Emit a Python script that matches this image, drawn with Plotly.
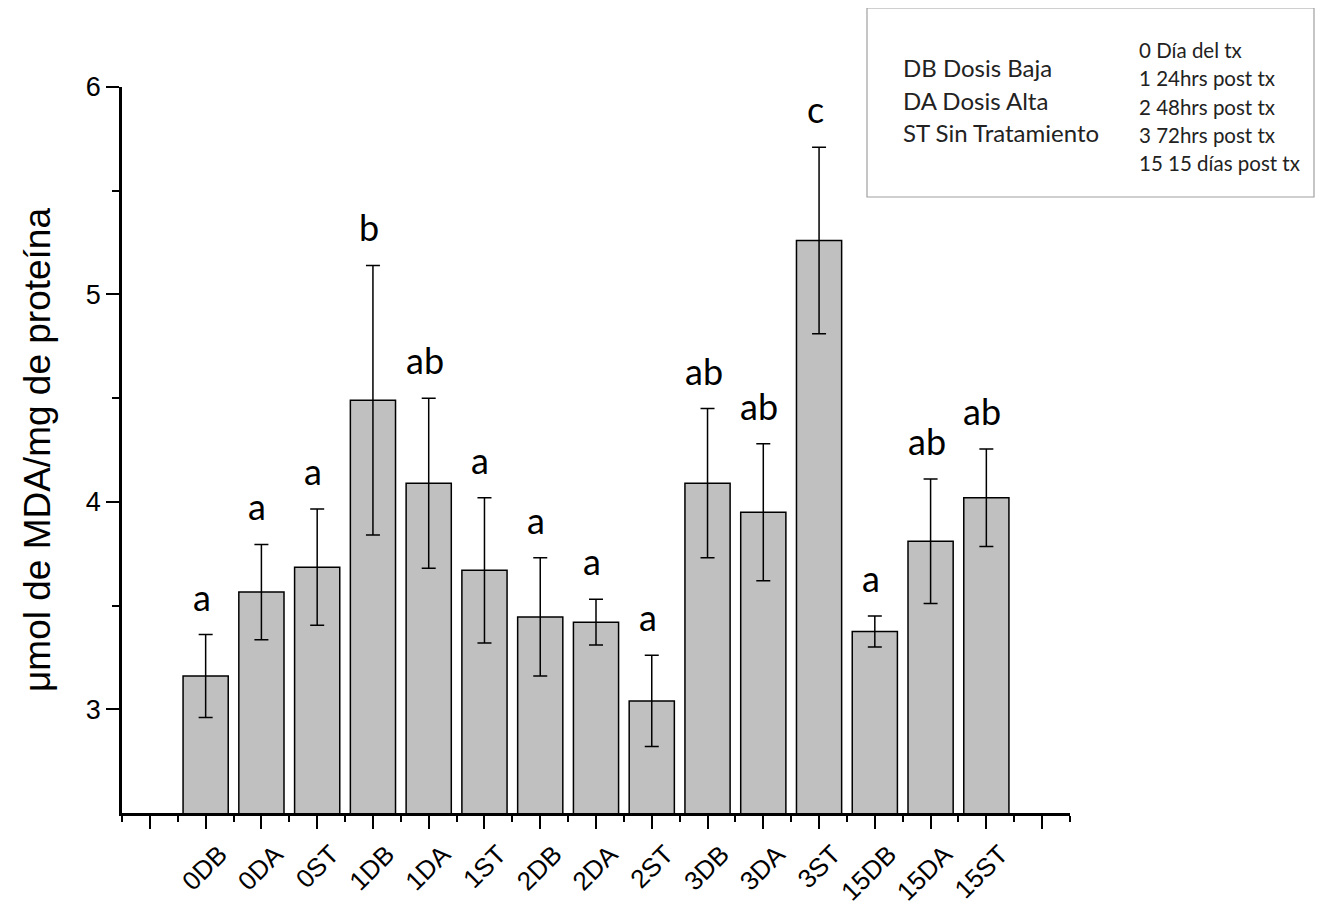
import plotly.graph_objects as go

categories = ["0DB", "0DA", "0ST", "1DB", "1DA", "1ST", "2DB", "2DA", "2ST",
              "3DB", "3DA", "3ST", "15DB", "15DA", "15ST"]
values = [3.16, 3.565, 3.685, 4.49, 4.09, 3.67, 3.445, 3.42, 3.04,
          4.09, 3.95, 5.26, 3.375, 3.81, 4.02]
errors = [0.20, 0.23, 0.28, 0.65, 0.41, 0.35, 0.285, 0.11, 0.22,
          0.36, 0.33, 0.45, 0.075, 0.30, 0.235]
letters = ["a", "a", "a", "b", "ab", "a", "a", "a", "a",
           "ab", "ab", "c", "a", "ab", "ab"]
legend_left = ["DB Dosis Baja", "DA Dosis Alta", "ST Sin Tratamiento"]
legend_right = ["0 Día del tx", "1 24hrs post tx", "2 48hrs post tx",
                "3 72hrs post tx", "15 15 días post tx"]

xpos = list(range(1, len(categories) + 1))

# page has an 8px body margin; plot area target (page px): x 122..1070, y 87..813
OFF = 8
W, H = 1317, 902
L, T = 122 - OFF, 87 - OFF
R = W - (1070 - OFF)
B = H - (813 - OFF)
PW, PH = 1070 - 122, 813 - 87


def px(xp):
    return (xp - 122) / PW


def py(yp):
    return (813 - yp) / PH


fig = go.Figure()
fig.add_trace(go.Bar(
    x=xpos, y=values, width=0.81,
    marker=dict(color="#c0c0c0", line=dict(color="#000000", width=1.5)),
    error_y=dict(type="data", array=errors, visible=True, color="#000000",
                 thickness=1.5, width=7),
))

for x, v, e, t in zip(xpos, values, errors, letters):
    fig.add_annotation(x=x, y=v + e, text=t, showarrow=False, yanchor="bottom",
                       yshift=14, xshift=-4,
                       font=dict(family="Lato", size=36, color="#000"))

fig.add_shape(type="rect", xref="paper", yref="paper",
              x0=px(867), x1=px(1314), y0=py(197), y1=py(8),
              line=dict(color="#a0a0a0", width=1.2), fillcolor="rgba(0,0,0,0)")

for i, t in enumerate(legend_left):
    fig.add_annotation(xref="paper", yref="paper", x=px(901), y=py(68 + 32.5 * i),
                       text=t, showarrow=False, xanchor="left", yanchor="middle",
                       font=dict(family="Lato", size=24, color="#222"))
for i, t in enumerate(legend_right):
    fig.add_annotation(xref="paper", yref="paper", x=px(1137), y=py(50 + 28.3 * i),
                       text=t, showarrow=False, xanchor="left", yanchor="middle",
                       font=dict(family="Lato", size=20.5, color="#222"))

fig.update_layout(
    width=W, height=H,
    margin=dict(l=L, r=R, t=T, b=B, autoexpand=False),
    plot_bgcolor="white", paper_bgcolor="white",
    showlegend=False,
    font=dict(family="Liberation Sans, Arial", color="#000"),
    xaxis=dict(
        range=[-0.5, 16.5], tickmode="array",
        tickvals=list(range(0, 17)),
        ticktext=[""] + categories + [""],
        tickangle=-45, ticks="outside", ticklen=13, tickwidth=2,
        tickcolor="#000", showline=True, linecolor="#000", linewidth=2.5,
        showgrid=False, zeroline=False,
        ticklabelshift=14, ticklabelstandoff=0,
        tickfont=dict(family="Liberation Sans, Arial", size=26, color="#000"),
        minor=dict(tickvals=[i + 0.5 for i in range(-1, 17)], ticks="outside",
                   ticklen=6, tickwidth=2, tickcolor="#000", showgrid=False),
    ),
    yaxis=dict(
        range=[2.5, 6], tickvals=[3, 4, 5, 6], ticks="outside", ticklen=13,
        tickwidth=2, tickcolor="#000", showline=True, linecolor="#000",
        linewidth=2.5, showgrid=False, zeroline=False,
        tickfont=dict(family="Liberation Sans, Arial", size=27, color="#000"),
        minor=dict(tickvals=[3.5, 4.5, 5.5], ticks="outside", ticklen=7,
                   tickwidth=2, tickcolor="#000", showgrid=False),
        title=dict(text="μmol de MDA/mg de proteína", standoff=24,
                   font=dict(family="Liberation Sans, Arial", size=37, color="#000")),
    ),
)

fig.write_html("out.html")
